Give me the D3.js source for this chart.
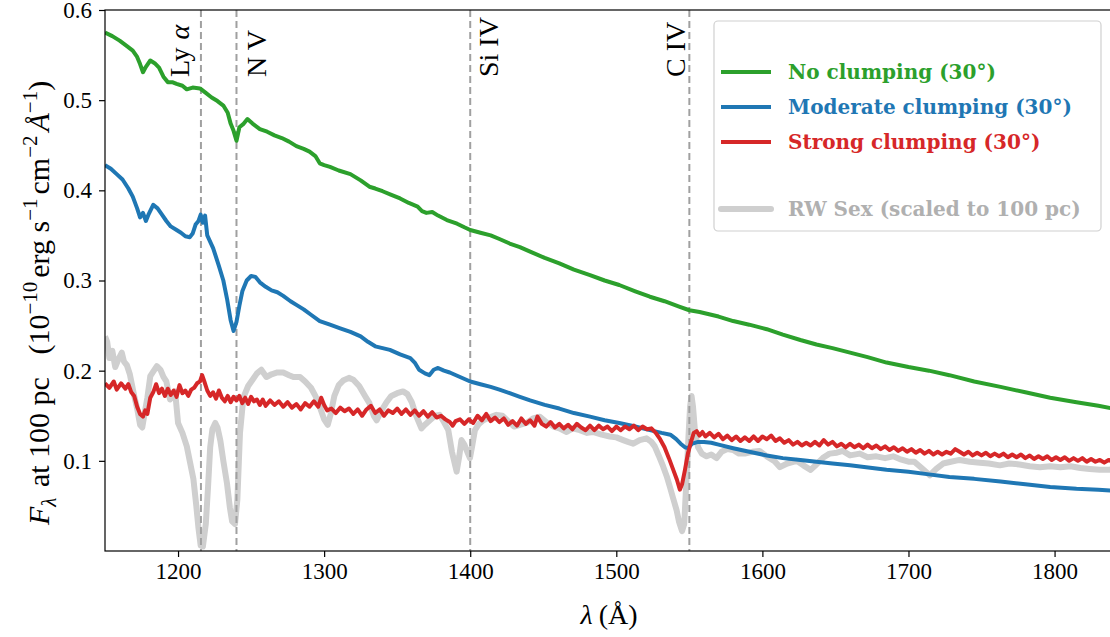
<!DOCTYPE html>
<html>
<head>
<meta charset="utf-8">
<script src="https://cdn.jsdelivr.net/npm/d3@7"></script>
<style>
  html, body { margin: 0; padding: 0; background: #fff; }
  svg { display: block; }
  .tick text { font-family: "Liberation Serif", "DejaVu Serif", serif; font-size: 23px; fill: #000; }
  .tick line { stroke: #000; stroke-width: 1.2; }
  .domain { display: none; }
</style>
</head>
<body>
<svg id="chart" width="1110" height="637"></svg>
<script>
// [wavelength (A), flux (1e-10 erg/s/cm2/A)]
var noClumping = [[1150,0.575],[1155,0.571],[1160,0.566],[1165,0.560],[1169,0.555],[1172,0.548],[1174,0.540],[1176,0.531],[1178,0.537],[1181,0.544],[1184,0.541],[1187,0.536],[1190,0.526],[1193,0.520],[1196,0.520],[1199,0.518],[1203,0.516],[1206,0.512],[1210,0.514],[1215,0.513],[1219,0.508],[1223,0.503],[1227,0.499],[1231,0.494],[1234,0.486],[1236,0.474],[1238,0.466],[1240,0.455],[1242,0.470],[1245,0.474],[1247.5,0.479],[1251,0.474],[1256,0.468],[1261,0.465],[1266,0.461],[1271,0.458],[1276,0.454],[1281,0.449],[1286,0.446],[1290,0.443],[1294,0.438],[1297,0.430],[1300,0.428],[1304,0.426],[1310,0.422],[1318,0.418],[1325,0.411],[1331,0.404],[1335,0.402],[1340,0.399],[1346,0.395],[1352,0.391],[1358,0.386],[1364,0.382],[1367,0.377],[1370,0.375],[1374,0.376],[1378,0.372],[1384,0.367],[1391,0.363],[1396,0.359],[1400,0.356],[1407,0.353],[1414,0.350],[1420,0.346],[1427,0.341],[1434,0.337],[1441,0.332],[1451,0.325],[1461,0.319],[1471,0.312],[1482,0.306],[1492,0.300],[1502,0.295],[1513,0.288],[1523,0.282],[1533,0.277],[1543,0.271],[1550,0.267],[1557,0.265],[1570,0.260],[1580,0.255],[1591,0.251],[1603,0.246],[1614,0.240],[1626,0.234],[1637,0.229],[1648,0.225],[1660,0.220],[1672,0.215],[1685,0.209],[1700,0.204],[1714,0.200],[1728,0.195],[1745,0.188],[1763,0.182],[1780,0.176],[1797,0.170],[1815,0.165],[1830,0.161],[1840,0.158]];

var moderateClumping = [[1150,0.428],[1154,0.424],[1158,0.418],[1162,0.412],[1166,0.402],[1169,0.393],[1172,0.380],[1174,0.370],[1176,0.375],[1178,0.366],[1180,0.374],[1183,0.384],[1186,0.380],[1189,0.373],[1192,0.366],[1195,0.360],[1199,0.356],[1202,0.353],[1205,0.349],[1208,0.348],[1210,0.352],[1212,0.362],[1214,0.366],[1215.5,0.373],[1217,0.364],[1218.5,0.372],[1220,0.350],[1224,0.336],[1228,0.316],[1231,0.300],[1233.5,0.280],[1236,0.256],[1238,0.244],[1240,0.254],[1242,0.272],[1244,0.288],[1247,0.300],[1250,0.305],[1253,0.304],[1256,0.298],[1260,0.293],[1264,0.289],[1268,0.287],[1272,0.283],[1277,0.277],[1281,0.273],[1286,0.268],[1291,0.262],[1297,0.255],[1304,0.251],[1311,0.247],[1318,0.243],[1325,0.238],[1330,0.232],[1335,0.227],[1340,0.225],[1345,0.223],[1352,0.218],[1359,0.214],[1362,0.209],[1365,0.201],[1369,0.197],[1372,0.195],[1375,0.201],[1378,0.203],[1382,0.200],[1386,0.198],[1393,0.193],[1400,0.188],[1407,0.185],[1414,0.182],[1420,0.179],[1427,0.175],[1434,0.171],[1441,0.167],[1451,0.162],[1461,0.158],[1471,0.153],[1482,0.149],[1492,0.145],[1502,0.142],[1513,0.138],[1523,0.134],[1531,0.131],[1537,0.129],[1541,0.124],[1544,0.119],[1547,0.115],[1549,0.114],[1552,0.119],[1556,0.121],[1560,0.121],[1565,0.120],[1570,0.118],[1580,0.114],[1591,0.110],[1603,0.106],[1614,0.103],[1626,0.101],[1637,0.099],[1648,0.097],[1660,0.095],[1671,0.093],[1685,0.090],[1700,0.088],[1714,0.085],[1728,0.082],[1745,0.080],[1763,0.077],[1780,0.074],[1797,0.071],[1815,0.069],[1830,0.068],[1840,0.067]];

var strongClumping = [[1150,0.186],[1153,0.181],[1156,0.188],[1158,0.179],[1161,0.186],[1164,0.180],[1166,0.185],[1168,0.176],[1170,0.172],[1172,0.160],[1174,0.152],[1176,0.149],[1177.5,0.156],[1179,0.152],[1181,0.170],[1183,0.176],[1185,0.185],[1187,0.175],[1189,0.180],[1191,0.172],[1193,0.180],[1195,0.173],[1197,0.178],[1199,0.171],[1201,0.184],[1203,0.175],[1205,0.178],[1207,0.172],[1209,0.179],[1211,0.181],[1213,0.186],[1215,0.188],[1216.5,0.195],[1218,0.188],[1220,0.178],[1222,0.172],[1224,0.176],[1226,0.169],[1228,0.178],[1230,0.170],[1232,0.166],[1234,0.172],[1236,0.165],[1238,0.171],[1240,0.167],[1242,0.172],[1244,0.164],[1246,0.170],[1248,0.163],[1250,0.171],[1252,0.166],[1254,0.168],[1256,0.162],[1258,0.168],[1260,0.161],[1263,0.167],[1266,0.162],[1269,0.166],[1272,0.160],[1275,0.165],[1278,0.159],[1281,0.163],[1284,0.157],[1287,0.164],[1290,0.160],[1293,0.166],[1296,0.160],[1298,0.170],[1300,0.162],[1302,0.156],[1305,0.158],[1308,0.153],[1311,0.159],[1314,0.155],[1317,0.158],[1320,0.152],[1323,0.157],[1326,0.150],[1329,0.157],[1332,0.161],[1335,0.153],[1338,0.157],[1341,0.150],[1344,0.156],[1347,0.153],[1350,0.158],[1353,0.152],[1356,0.157],[1359,0.151],[1362,0.156],[1365,0.150],[1368,0.155],[1371,0.149],[1374,0.154],[1377,0.148],[1380,0.150],[1383,0.146],[1386,0.143],[1388,0.139],[1390,0.144],[1393,0.146],[1396,0.141],[1399,0.146],[1402,0.142],[1405,0.150],[1408,0.145],[1411,0.152],[1414,0.144],[1417,0.148],[1420,0.143],[1423,0.147],[1426,0.140],[1429,0.144],[1432,0.139],[1435,0.147],[1438,0.141],[1441,0.145],[1444,0.139],[1446,0.149],[1449,0.141],[1452,0.138],[1455,0.143],[1458,0.137],[1461,0.141],[1464,0.136],[1467,0.140],[1470,0.135],[1473,0.141],[1476,0.137],[1479,0.134],[1482,0.139],[1485,0.134],[1488,0.139],[1491,0.135],[1494,0.138],[1497,0.133],[1500,0.138],[1503,0.134],[1506,0.138],[1509,0.135],[1512,0.139],[1515,0.134],[1518,0.138],[1521,0.135],[1524,0.136],[1527,0.131],[1530,0.124],[1533,0.115],[1536,0.103],[1539,0.090],[1541.5,0.079],[1543.5,0.068],[1545,0.074],[1547,0.090],[1549,0.108],[1551,0.120],[1553,0.131],[1555,0.133],[1557,0.128],[1559,0.132],[1561,0.127],[1564,0.131],[1567,0.126],[1570,0.130],[1573,0.124],[1576,0.128],[1579,0.123],[1582,0.127],[1585,0.122],[1588,0.126],[1591,0.122],[1594,0.127],[1597,0.122],[1600,0.127],[1603,0.124],[1606,0.128],[1609,0.122],[1612,0.125],[1615,0.120],[1618,0.123],[1621,0.118],[1624,0.121],[1627,0.117],[1630,0.120],[1633,0.117],[1636,0.121],[1639,0.117],[1642,0.123],[1645,0.118],[1648,0.121],[1651,0.116],[1654,0.119],[1657,0.115],[1660,0.119],[1663,0.115],[1666,0.118],[1669,0.114],[1672,0.118],[1675,0.114],[1678,0.117],[1681,0.113],[1684,0.116],[1687,0.112],[1690,0.115],[1693,0.111],[1696,0.114],[1699,0.110],[1702,0.113],[1705,0.109],[1708,0.112],[1711,0.108],[1714,0.111],[1717,0.107],[1720,0.110],[1723,0.107],[1726,0.110],[1729,0.108],[1732,0.113],[1735,0.110],[1738,0.107],[1741,0.110],[1744,0.106],[1747,0.109],[1750,0.106],[1753,0.109],[1756,0.105],[1759,0.108],[1762,0.105],[1765,0.108],[1768,0.104],[1771,0.107],[1774,0.104],[1777,0.107],[1780,0.103],[1783,0.106],[1786,0.102],[1789,0.105],[1792,0.102],[1795,0.105],[1798,0.101],[1801,0.104],[1804,0.101],[1807,0.104],[1810,0.100],[1813,0.103],[1816,0.100],[1819,0.103],[1822,0.099],[1825,0.102],[1828,0.099],[1831,0.101],[1834,0.098],[1837,0.101],[1840,0.099]];

var rwSex = [[1150,0.238],[1151.5,0.232],[1153,0.214],[1155,0.222],[1157,0.204],[1159,0.212],[1161.5,0.220],[1163,0.210],[1165,0.206],[1167,0.196],[1168.5,0.184],[1170,0.172],[1172,0.158],[1174,0.140],[1175.5,0.137],[1177.5,0.156],[1179,0.170],[1181,0.194],[1183,0.199],[1185.5,0.205],[1188,0.201],[1190,0.193],[1192,0.188],[1194.5,0.168],[1196,0.172],[1198,0.177],[1200,0.142],[1203,0.131],[1206,0.116],[1208,0.100],[1210.5,0.080],[1212.5,0.050],[1214,0.025],[1215.5,0.006],[1217,0.005],[1219,0.030],[1220.5,0.070],[1222,0.115],[1223.5,0.135],[1225.5,0.142],[1227,0.137],[1229,0.122],[1231,0.100],[1233.5,0.075],[1235.5,0.048],[1237,0.033],[1239,0.030],[1240.6,0.057],[1242.4,0.131],[1244.7,0.170],[1248,0.183],[1251,0.190],[1254,0.197],[1257,0.201],[1260.5,0.193],[1264,0.196],[1268,0.198],[1272,0.198],[1276,0.195],[1279,0.193],[1283.5,0.193],[1287,0.188],[1291,0.181],[1294,0.172],[1297,0.160],[1300,0.146],[1302.5,0.140],[1304.5,0.152],[1307,0.172],[1310,0.184],[1313,0.189],[1317,0.192],[1320,0.190],[1324,0.183],[1328,0.172],[1331,0.164],[1334,0.150],[1336,0.145],[1339,0.155],[1342.7,0.165],[1346,0.172],[1350,0.175],[1354,0.177],[1357,0.174],[1360,0.165],[1363,0.150],[1366.6,0.136],[1369,0.140],[1372.4,0.145],[1376,0.150],[1379,0.151],[1382,0.143],[1385,0.134],[1387.5,0.110],[1390.7,0.088],[1392.5,0.105],[1394,0.123],[1396,0.118],[1397.5,0.112],[1399.8,0.103],[1401.5,0.118],[1403.2,0.134],[1406,0.141],[1409,0.145],[1413,0.148],[1418,0.151],[1422,0.150],[1426,0.144],[1430,0.138],[1434,0.140],[1438.6,0.142],[1443,0.147],[1447.7,0.149],[1452,0.143],[1457,0.138],[1461,0.136],[1466,0.132],[1470,0.136],[1475,0.134],[1480,0.131],[1484,0.132],[1490,0.129],[1495.5,0.127],[1500,0.126],[1504.7,0.123],[1508,0.121],[1511.6,0.119],[1516,0.123],[1520.7,0.125],[1524,0.121],[1526.3,0.116],[1529,0.106],[1532,0.094],[1534.5,0.083],[1536.7,0.071],[1539,0.058],[1541.3,0.045],[1543,0.032],[1545,0.022],[1546.5,0.030],[1548,0.079],[1549.5,0.130],[1550.5,0.160],[1551.5,0.172],[1552.5,0.160],[1554,0.130],[1556,0.115],[1558.5,0.108],[1561.8,0.105],[1565,0.107],[1568.6,0.103],[1572,0.110],[1576,0.113],[1580,0.112],[1584,0.108],[1588,0.108],[1593,0.110],[1598,0.111],[1603,0.105],[1608,0.100],[1612,0.093],[1617,0.097],[1623.5,0.100],[1628,0.095],[1633,0.090],[1637,0.096],[1642,0.104],[1646,0.108],[1651,0.109],[1655,0.111],[1660,0.106],[1666.7,0.108],[1672,0.104],[1678,0.105],[1684,0.103],[1689.5,0.105],[1694,0.102],[1700,0.099],[1704,0.099],[1709,0.092],[1714.6,0.084],[1719,0.091],[1723.7,0.097],[1729,0.099],[1735,0.101],[1742,0.099],[1749,0.098],[1755,0.097],[1762.6,0.095],[1769,0.097],[1776,0.096],[1783,0.094],[1790,0.093],[1797,0.094],[1804,0.093],[1811,0.094],[1817.6,0.092],[1824,0.091],[1831,0.090],[1837,0.090],[1840,0.091]];

var lineWaves = [1215.67, 1240, 1400, 1550];
var lineNames = ['Ly', 'N V', 'Si IV', 'C IV'];
var xTicks = [1200, 1300, 1400, 1500, 1600, 1700, 1800];
var yTicks = [0.1, 0.2, 0.3, 0.4, 0.5, 0.6];
var legendLabels = ['No clumping (30\u00b0)', 'Moderate clumping (30\u00b0)', 'Strong clumping (30\u00b0)', 'RW Sex (scaled to 100 pc)'];

(function () {
    var serif = '"Liberation Serif", "DejaVu Serif", serif';
    var boldSerif = '"DejaVu Serif", serif';

    var svg = d3.select('#chart');
    var plotLeft = 105, plotRight = 1113, plotTop = 10, plotBottom = 551;

    var x = d3.scaleLinear().domain([1150, 1840]).range([plotLeft, plotRight]);
    var y = d3.scaleLinear().domain([0, 0.6]).range([plotBottom, plotTop]);

    svg.append('defs').append('clipPath').attr('id', 'plot-clip')
        .append('rect')
        .attr('x', plotLeft).attr('y', plotTop)
        .attr('width', plotRight - plotLeft).attr('height', plotBottom - plotTop);

    var line = d3.line()
        .x(function (d) { return x(d[0]); })
        .y(function (d) { return y(d[1]); });

    var plot = svg.append('g').attr('clip-path', 'url(#plot-clip)');

    plot.append('path')
        .datum(rwSex)
        .attr('d', line)
        .attr('fill', 'none')
        .attr('stroke', '#cfcfcf')
        .attr('stroke-width', 6)
        .attr('stroke-linejoin', 'round');

    // dashed markers for the resonance lines
    plot.selectAll('.ion-line')
        .data(lineWaves)
        .enter().append('line')
        .attr('class', 'ion-line')
        .attr('x1', function (d) { return x(d); })
        .attr('x2', function (d) { return x(d); })
        .attr('y1', plotTop)
        .attr('y2', plotBottom)
        .attr('stroke', '#a0a0a0')
        .attr('stroke-width', 2)
        .attr('stroke-dasharray', '7,4');

    var series = [
        { data: noClumping, color: '#2ca02c' },
        { data: moderateClumping, color: '#1f77b4' },
        { data: strongClumping, color: '#d62728' }
    ];

    series.forEach(function (s) {
        plot.append('path')
            .datum(s.data)
            .attr('d', line)
            .attr('fill', 'none')
            .attr('stroke', s.color)
            .attr('stroke-width', 4)
            .attr('stroke-linejoin', 'round');
    });

    // ion labels (rotated), placed left or right of their line
    var labelShift = [-12, 30, 28, -4];
    lineNames.forEach(function (name, i) {
        var t = svg.append('text')
            .attr('transform', 'translate(' + (x(lineWaves[i]) + labelShift[i]) + ',77) rotate(-90)')
            .attr('font-family', serif)
            .attr('font-size', 28)
            .attr('fill', '#000');
        t.append('tspan').text(name);
        if (name === 'Ly') {
            t.append('tspan').attr('font-style', 'italic').attr('dx', 8).text('\u03b1');
        }
    });

    // axes
    svg.append('g')
        .attr('transform', 'translate(0,' + plotBottom + ')')
        .call(d3.axisBottom(x).tickValues(xTicks).tickFormat(d3.format('d')).tickSize(6).tickPadding(6));

    svg.append('g')
        .attr('transform', 'translate(' + plotLeft + ',0)')
        .call(d3.axisLeft(y).tickValues(yTicks).tickFormat(d3.format('.1f')).tickSize(6).tickPadding(7));

    // frame
    svg.append('rect')
        .attr('x', plotLeft).attr('y', plotTop)
        .attr('width', plotRight - plotLeft).attr('height', plotBottom - plotTop)
        .attr('fill', 'none')
        .attr('stroke', '#000')
        .attr('stroke-width', 1.2);

    // x label
    var xl = svg.append('text')
        .attr('x', 609).attr('y', 624)
        .attr('text-anchor', 'middle')
        .attr('font-family', serif)
        .attr('font-size', 28)
        .attr('fill', '#000');
    xl.append('tspan').attr('font-style', 'italic').text('\u03bb');
    xl.append('tspan').attr('dx', 6).text('(\u00c5)');

    // y label, written from the bottom upwards
    var yl = svg.append('text')
        .attr('transform', 'translate(49,525) rotate(-90)')
        .attr('text-anchor', 'start')
        .attr('font-family', serif)
        .attr('font-size', 30)
        .attr('fill', '#000');
    yl.append('tspan').attr('font-style', 'italic').text('F');
    yl.append('tspan').attr('font-size', 21).attr('font-style', 'italic').attr('dy', 7).text('\u03bb');
    yl.append('tspan').attr('dy', -7).attr('dx', 3).text(' at 100 pc \u2002(10');
    yl.append('tspan').attr('font-size', 21).attr('dy', -12).text('\u221210');
    yl.append('tspan').attr('dy', 12).attr('dx', 4).text('erg s');
    yl.append('tspan').attr('font-size', 21).attr('dy', -12).text('\u22121');
    yl.append('tspan').attr('dy', 12).attr('dx', 4).text('cm');
    yl.append('tspan').attr('font-size', 21).attr('dy', -12).text('\u22122');
    yl.append('tspan').attr('dy', 12).attr('dx', 4).attr('font-style', 'italic').text('\u00c5');
    yl.append('tspan').attr('font-size', 21).attr('dy', -12).text('\u22121');
    yl.append('tspan').attr('dy', 12).text(')');

    // legend
    var legend = svg.append('g');
    legend.append('rect')
        .attr('x', 714).attr('y', 21)
        .attr('width', 387).attr('height', 210)
        .attr('rx', 4)
        .attr('fill', '#fff').attr('fill-opacity', 0.8)
        .attr('stroke', '#d0d0d0').attr('stroke-width', 1.2);

    var legendItems = [
        { label: legendLabels[0], color: '#2ca02c', text: '#2ca02c', width: 4, ly: 72 },
        { label: legendLabels[1], color: '#1f77b4', text: '#1f77b4', width: 4, ly: 107 },
        { label: legendLabels[2], color: '#d62728', text: '#d62728', width: 4, ly: 142 },
        { label: legendLabels[3], color: '#cfcfcf', text: '#b0b0b0', width: 6, ly: 209 }
    ];

    legendItems.forEach(function (it) {
        legend.append('line')
            .attr('x1', 721).attr('x2', 771)
            .attr('y1', it.ly).attr('y2', it.ly)
            .attr('stroke', it.color)
            .attr('stroke-width', it.width)
            .attr('stroke-linecap', it.width > 4 ? 'round' : 'butt');
        legend.append('text')
            .attr('x', 788).attr('y', it.ly + 7)
            .attr('font-family', boldSerif)
            .attr('font-weight', 'bold')
            .attr('font-size', 20)
            .attr('fill', it.text)
            .text(it.label);
    });
})();
</script>
</body>
</html>
